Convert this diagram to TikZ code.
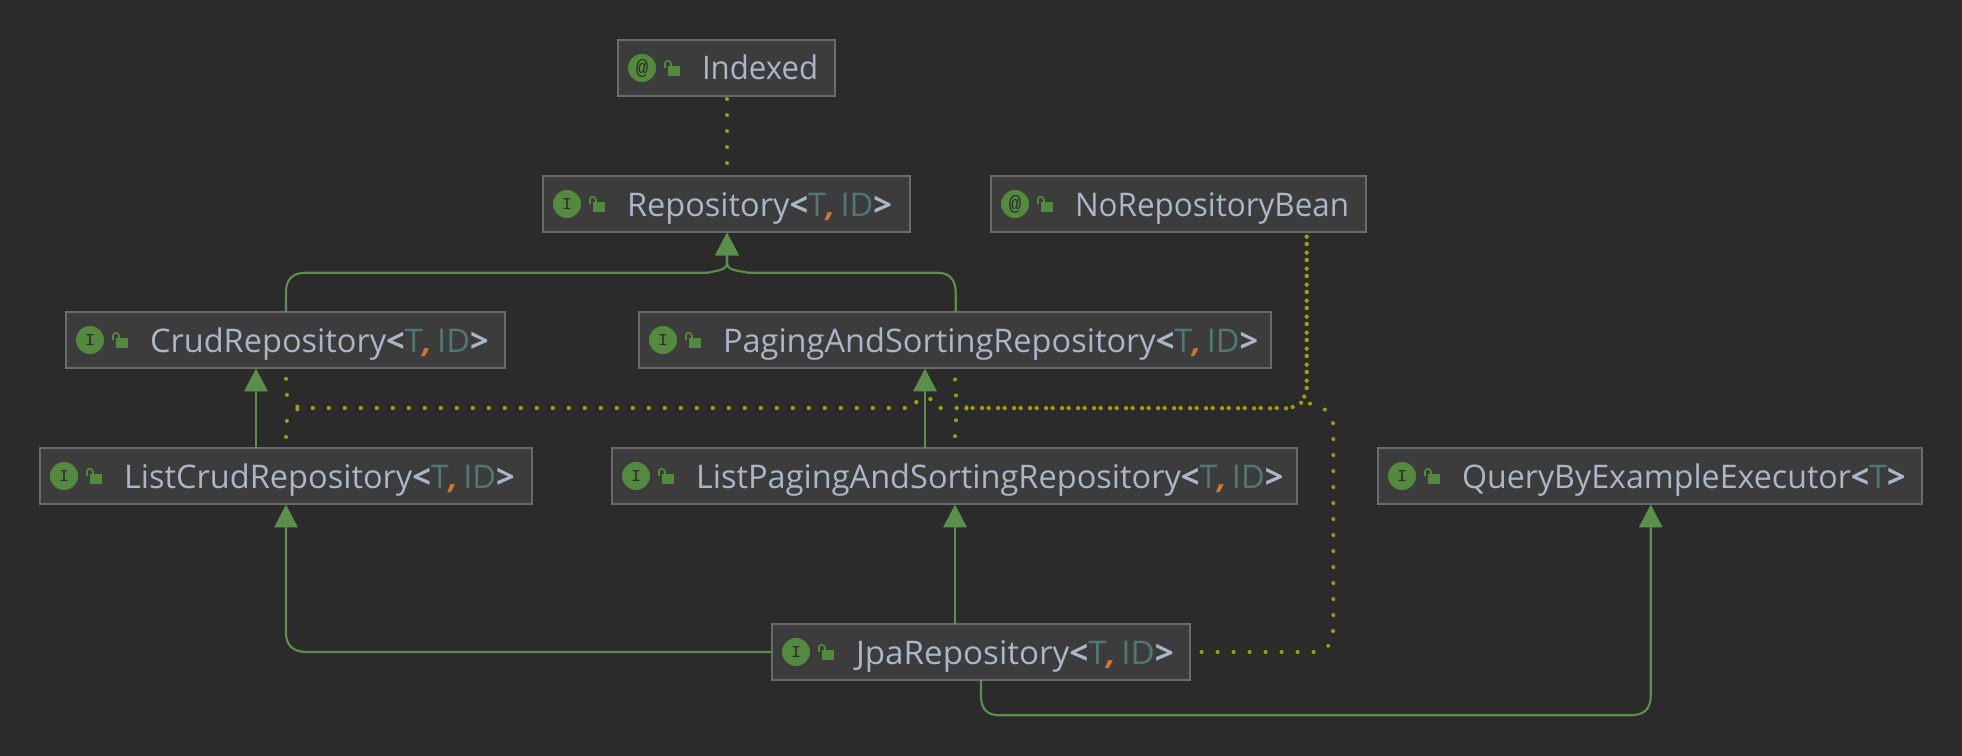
\documentclass[tikz,border=0pt]{standalone}
\usepackage{graphicx}
\usepackage{fontspec}
\setmainfont{Open Sans}
\newfontfamily\monofam{Liberation Mono}
\usetikzlibrary{arrows.meta}
\definecolor{bgc}{HTML}{2B2B2B}
\definecolor{boxc}{HTML}{3C3C3C}
\definecolor{linec}{HTML}{6B6B6B}
\definecolor{txtc}{HTML}{A9B7C9}
\definecolor{tealc}{HTML}{507874}
\definecolor{orgc}{HTML}{CC7832}
\definecolor{grnc}{HTML}{5C8F4B}
\definecolor{dotc}{HTML}{A0A000}
\definecolor{icoc}{HTML}{548A3E}
\newcommand{\tp}[1]{\textcolor{tealc}{#1}}
\newcommand{\cm}{\textcolor{orgc}{\bfseries\itshape,}\,}
\newcommand{\la}{{\bfseries<}}
\newcommand{\ra}{{\bfseries>}}
\newcommand{\tid}{\la\tp{T}\cm\tp{ID}\ra}
\newcommand{\atsign}{{\fontsize{15.5pt}{16pt}\selectfont @}}
\tikzset{
  x=0.75pt,y=-0.75pt,
  umlbox/.style={draw=linec,fill=boxc,line width=1.2pt,inner sep=0pt,outer sep=0pt,anchor=north west,minimum height=42pt},
  umltext/.style={anchor=base west,inner sep=0pt,outer sep=0pt,text=txtc,font=\fontsize{24.4pt}{28pt}\selectfont},
  umlicon/.style={circle,fill=icoc,inner sep=0pt,outer sep=0pt,minimum size=21pt,text=bgc,font=\monofam\fontsize{12.5pt}{14pt}\selectfont},
  inherit/.style={draw=grnc,line width=1.6pt,-{Triangle[width=17.5pt,length=17pt,fill=grnc]},shorten >=0.5pt},
  depdots/.style={draw=dotc,line width=3pt,line cap=round,line join=round,dash pattern=on 0.01pt off 11.99pt},
}
\newcommand{\umlnode}[6]{%
  \node[umlbox,minimum width={(#3-#2)*0.75pt}] (#1) at (#2,#4) {};
  \node[umlicon] (#1i) at (#2+24,#4+28) {#5};
  \fill[icoc] (#2+50,#4+26) rectangle (#2+62,#4+36);
  \draw[icoc,line width=1.2pt] (#2+47,#4+28) -- (#2+47,#4+23) .. controls (#2+47,#4+20) and (#2+53,#4+20) .. (#2+53,#4+24) -- (#2+53,#4+27);
  \node[umltext] (#1t) at (#2+84,#4+40) {#6};
}
\begin{document}
\begin{tikzpicture}
\useasboundingbox (0,0) rectangle (1962,756);
\fill[bgc] (0,0) rectangle (1962,756);

\umlnode{indexed}{618}{835}{40}{\atsign}{\scalebox{0.958}[1]{Indexed}}
\umlnode{repo}{543}{910}{176}{I}{Repository\tid}
\umlnode{nrb}{991}{1366}{176}{\atsign}{\scalebox{0.965}[1]{NoRepositoryBean}}
\umlnode{crud}{66}{505}{312}{I}{CrudRepository\tid}
\umlnode{paging}{639}{1271}{312}{I}{PagingAndSortingRepository\tid}
\umlnode{lcrud}{40}{532}{448}{I}{ListCrudRepository\tid}
\umlnode{lpaging}{612}{1297}{448}{I}{ListPagingAndSortingRepository\tid}
\umlnode{qbe}{1378}{1922}{448}{I}{\scalebox{0.989}[1]{QueryByExampleExecutor\la\tp{T}\ra}}
\umlnode{jpa}{772}{1190}{624}{I}{\scalebox{1.02}[1]{JpaRepository\tid}}

% inheritance
\draw[inherit] (crud.north -| 286,0) -- (286,292) .. controls (286,279) and (293,272.7) .. (306,272.7) -- (708,272.7) .. controls (720,270) and (727,270) .. (727,262) -- (repo.south -| 727,0);
\draw[inherit] (paging.north -| 955.7,0) -- (955.7,293) .. controls (955.7,280) and (950,272.7) .. (937,272.7) -- (748,272.7) .. controls (734,270) and (727,270) .. (727,262) -- (repo.south -| 727,0);
\draw[inherit] (lcrud.north -| 256,0) -- (crud.south -| 256,0);
\draw[inherit] (lpaging.north -| 925,0) -- (paging.south -| 925,0);
\draw[inherit] (jpa.west |- 0,652) -- (306.5,652) .. controls (293,652) and (286,645) .. (286,633) -- (lcrud.south -| 286,0);
\draw[inherit] (jpa.north -| 955,0) -- (lpaging.south -| 955,0);
\draw[inherit] (jpa.south -| 981,0) -- (981,696) .. controls (981,709) and (987,715.3) .. (1000,715.3) -- (1630,715.3) .. controls (1644,715.3) and (1650.7,709) .. (1650.7,696) -- (qbe.south -| 1650.7,0);

% dotted dependencies
\draw[depdots,dash phase=9.75pt] (indexed.south -| 727,0) -- (repo.north -| 727,0);
\draw[depdots,dash phase=8.48pt] (nrb.south -| 1306.7,0) -- (1306.7,380.7) -- (1304.3,396.5) -- (1293.7,407) -- (1278,408) -- (942,408) -- (935.5,408) .. controls (935.5,394) and (914.5,394) .. (914.5,408) -- (298.7,408) -- (287,396) -- (286,380) -- (crud.south -| 286,0);
\draw[depdots,dash phase=8.48pt] (nrb.south -| 1306.7,0) -- (1306.7,380.7) -- (1304.3,396.5) -- (1293.7,407) -- (1278,408) -- (942,408) -- (935.5,408) .. controls (935.5,394) and (914.5,394) .. (914.5,408) -- (298.7,408) -- (287,419) -- (286,435) -- (lcrud.north -| 286,0);
\draw[depdots,dash phase=3pt] (nrb.south -| 1306.7,0) -- (1306.7,387.7) -- (1302,402.3) -- (1286.8,408.3) -- (967,408) -- (956,396) -- (955,380) -- (paging.south -| 955,0);
\draw[depdots,dash phase=3pt] (nrb.south -| 1306.7,0) -- (1306.7,387.7) -- (1302,402.3) -- (1286.8,408.3) -- (967,408) -- (956,419) -- (955,435) -- (lpaging.north -| 955,0);
\draw[depdots,dash phase=3pt] (nrb.south -| 1306.7,0) -- (1306.7,387.7) -- (1310,403.7) -- (1324.7,409.3) -- (1333,422) -- (1333.3,438) -- (1333.3,630) -- (1329.3,645.3) -- (1315.4,652) -- (jpa.east |- 0,652);
\end{tikzpicture}
\end{document}
